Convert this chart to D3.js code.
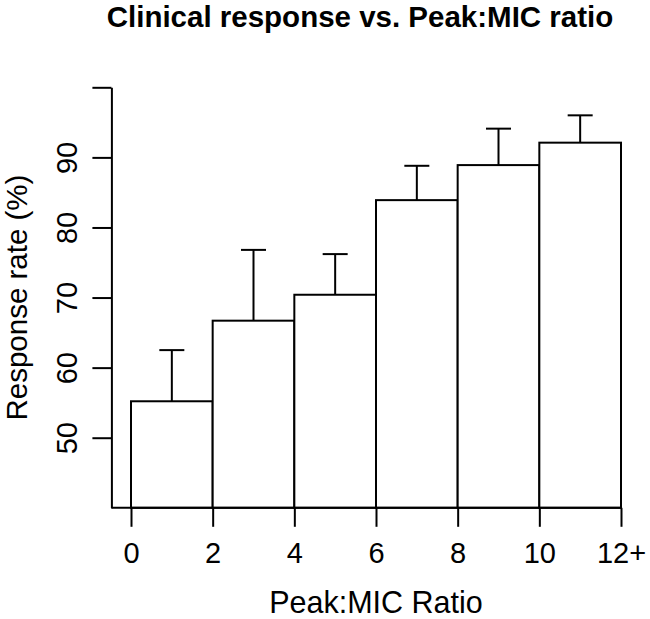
<!DOCTYPE html>
<html>
<head>
<meta charset="utf-8">
<script src="https://cdn.jsdelivr.net/npm/d3@7"></script>
<style>
  html, body { margin: 0; padding: 0; background: #fff; }
  svg { display: block; }
  text { font-family: "Liberation Sans", Arial, sans-serif; fill: #000; }
</style>
</head>
<body>
<script>
// ---- data ----
const binStarts = [0, 2, 4, 6, 8, 10];
const binWidth = 2;
const responseRate = [55.2, 66.7, 70.4, 83.9, 88.9, 92.1];
const upperError = [62.5, 76.8, 76.2, 88.8, 94.1, 96.0];
const xTickValues = [0, 2, 4, 6, 8, 10, 12];
const xTickLabels = ["0", "2", "4", "6", "8", "10", "12+"];
const yTickValues = [50, 60, 70, 80, 90, 100];
const yTickLabels = ["50", "60", "70", "80", "90", ""];
const titleText = "Clinical response vs. Peak:MIC ratio";
const xTitle = "Peak:MIC Ratio";
const yTitle = "Response rate (%)";

// ---- layout ----
const W = 650, H = 619;
const svg = d3.select("body").append("svg").attr("width", W).attr("height", H);

const x = d3.scaleLinear().domain([0, 12]).range([131, 621]);
const y = d3.scaleLinear().domain([40, 100]).range([507.8, 87.3]);
const xLeftPad = -0.48;
const lw = 2;

// bars
svg.append("g").selectAll("rect").data(binStarts).join("rect")
  .attr("x", d => x(d))
  .attr("y", (d, i) => y(responseRate[i]))
  .attr("width", d => x(d + binWidth) - x(d))
  .attr("height", (d, i) => y(40) - y(responseRate[i]))
  .attr("fill", "#fff").attr("stroke", "#000").attr("stroke-width", lw);

// error bars
const eb = svg.append("g").attr("stroke", "#000").attr("stroke-width", lw);
binStarts.forEach((d, i) => {
  const cx = x(d + binWidth / 2);
  eb.append("line").attr("x1", cx).attr("x2", cx)
    .attr("y1", y(responseRate[i])).attr("y2", y(upperError[i]));
  eb.append("line").attr("x1", cx - 12.5).attr("x2", cx + 12.5)
    .attr("y1", y(upperError[i])).attr("y2", y(upperError[i]));
});

// x axis
const xAxis = d3.axisBottom(x).tickValues(xTickValues)
  .tickFormat((d, i) => xTickLabels[i]).tickSize(19).tickPadding(15.5).tickSizeOuter(0);
const gx = svg.append("g").attr("transform", `translate(0,${y(40)})`).call(xAxis);
gx.select(".domain").remove();
gx.append("line").attr("x1", x(xLeftPad)).attr("x2", x(12)).attr("y1", 0).attr("y2", 0)
  .attr("stroke", "#000").attr("stroke-width", lw);
gx.selectAll(".tick line").attr("stroke", "#000").attr("stroke-width", lw);
gx.selectAll(".tick text").attr("font-size", 29).attr("font-family", "Liberation Sans, Arial, sans-serif").attr("fill", "#000");

// y axis
const yAxis = d3.axisLeft(y).tickValues(yTickValues)
  .tickFormat((d, i) => yTickLabels[i]).tickSize(19).tickSizeOuter(0);
const gy = svg.append("g").attr("transform", `translate(${x(xLeftPad)},0)`).call(yAxis);
gy.select(".domain").attr("stroke", "#000").attr("stroke-width", lw);
gy.selectAll(".tick line").attr("stroke", "#000").attr("stroke-width", lw);
gy.selectAll(".tick text")
  .attr("font-size", 29).attr("font-family", "Liberation Sans, Arial, sans-serif").attr("fill", "#000")
  .attr("x", null).attr("dy", null)
  .attr("transform", "translate(-34,0) rotate(-90)")
  .attr("text-anchor", "middle");

// titles
svg.append("text").attr("x", 360).attr("y", 27).attr("text-anchor", "middle")
  .attr("font-size", 29.5).attr("font-weight", "bold").text(titleText);
svg.append("text").attr("x", (x(xLeftPad) + x(12.48)) / 2).attr("y", 613).attr("text-anchor", "middle")
  .attr("font-size", 30.5).text(xTitle);
svg.append("text").attr("transform", `translate(27,${(y(40) + y(100)) / 2}) rotate(-90)`)
  .attr("text-anchor", "middle").attr("font-size", 29.5).text(yTitle);
</script>
</body>
</html>
